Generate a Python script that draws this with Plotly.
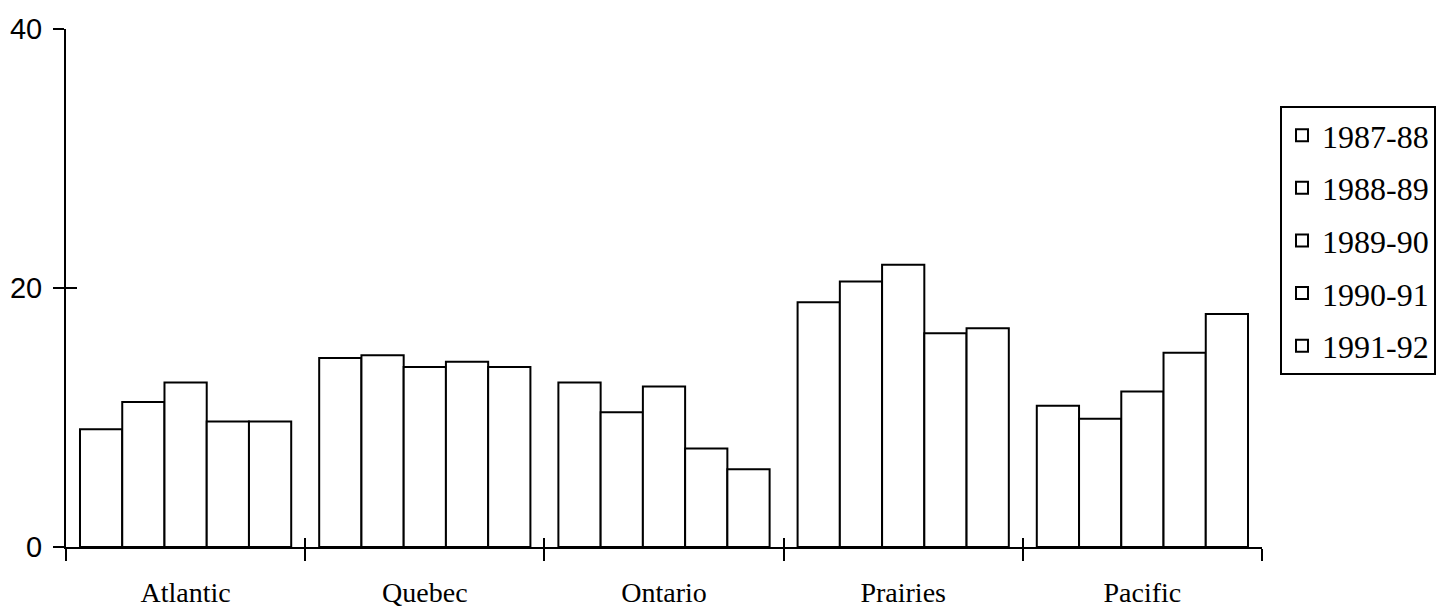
import plotly.graph_objects as go

regions = ["Atlantic", "Quebec", "Ontario", "Prairies", "Pacific"]
years = ["1987-88", "1988-89", "1989-90", "1990-91", "1991-92"]
v_1987_88 = [9.1, 14.6, 12.7, 18.9, 10.9]
v_1988_89 = [11.2, 14.8, 10.4, 20.5, 9.9]
v_1989_90 = [12.7, 13.9, 12.4, 21.8, 12.0]
v_1990_91 = [9.7, 14.3, 7.6, 16.5, 15.0]
v_1991_92 = [9.7, 13.9, 6.0, 16.9, 18.0]
series = [v_1987_88, v_1988_89, v_1989_90, v_1990_91, v_1991_92]
y_ticks = [0, 20, 40]

fig = go.Figure()
for name, vals in zip(years, series):
    fig.add_trace(go.Bar(
        x=regions, y=vals, name=name, legendgroup=name,
        marker=dict(color="white", line=dict(color="black", width=2)),
        hoverinfo="skip",
    ))

# empty helper trace so the overlaid tick-only axes are drawn
fig.add_trace(go.Scatter(x=[None], y=[None], xaxis="x2", yaxis="y2",
                         showlegend=False, hoverinfo="skip", mode="markers"))

n = len(regions)
W, H = 1437, 603
L, T = 58, 21
PW, PH = 1196, 518.3
fig.update_layout(
    width=W, height=H,
    margin=dict(l=L, r=W - L - PW, t=T, b=H - T - PH, pad=0, autoexpand=False),
    plot_bgcolor="white", paper_bgcolor="white",
    barmode="group", bargap=0.117, bargroupgap=0,
    showlegend=True,
    legend=dict(
        x=(1280 - 8 - L) / PW, y=(PH + T + 8 - 106) / PH,
        xanchor="left", yanchor="top",
        bordercolor="black", borderwidth=2, bgcolor="white",
        font=dict(family="Liberation Serif", size=32, color="black"),
        tracegroupgap=8, itemwidth=30,
    ),
    xaxis=dict(
        type="category", tickson="boundaries", ticks="outside", ticklen=12,
        tickwidth=2, tickcolor="black", ticklabelstandoff=19,
        showline=True, linecolor="black", linewidth=2, showgrid=False,
        tickfont=dict(family="Liberation Serif", size=28, color="black"),
        range=[-0.5, n - 0.5], fixedrange=True,
    ),
    xaxis2=dict(
        overlaying="x", anchor="y2", range=[-0.5, n - 0.5],
        tickvals=[k - 0.5 for k in range(n + 1)], ticks="inside", ticklen=9,
        tickwidth=2, tickcolor="black", showticklabels=False,
        showline=False, showgrid=False, zeroline=False, fixedrange=True,
    ),
    yaxis=dict(
        range=[0, 40], tickvals=y_ticks, ticks="outside", ticklen=11,
        tickwidth=2, tickcolor="black", ticklabelstandoff=5,
        showline=True, linecolor="black", linewidth=2, showgrid=False,
        zeroline=False, fixedrange=True,
        tickfont=dict(family="Liberation Sans", size=29, color="black"),
    ),
    yaxis2=dict(
        overlaying="y", anchor="x2", side="left", range=[0, 40],
        tickvals=y_ticks, ticks="inside", ticklen=11,
        tickwidth=2, tickcolor="black", showticklabels=False,
        showline=False, showgrid=False, zeroline=False, fixedrange=True,
    ),
)

fig.write_html("out.html")
